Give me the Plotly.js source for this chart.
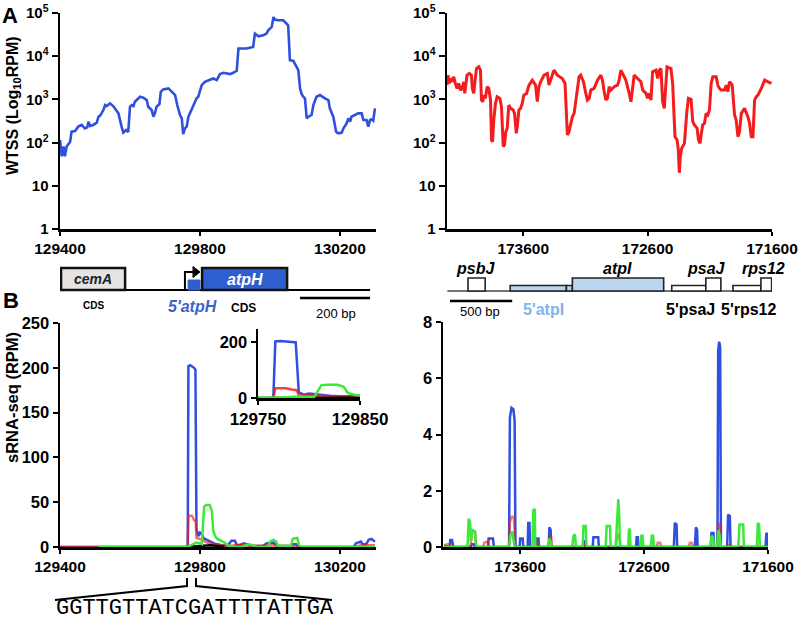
<!DOCTYPE html>
<html><head><meta charset="utf-8">
<script src="https://cdn.plot.ly/plotly-3.0.1.min.js"></script>
<style>html,body{margin:0;padding:0;background:#fff}#c{width:800px;height:622px}</style>
</head><body><div id="c"></div>
<script>
// ---- Panel A: WTSS (RPM), atpH region ----
const tssLeftPos = [129400,129405,129410,129414,129419,129429,129433,129443,129452,129462,129471,129478,129481,129486,129495,129505,129510,129514,129524,129529,129533,129543,129552,129557,129567,129576,129581,129589,129595,129600,129605,129610,129614,129619,129629,129638,129648,129652,129662,129667,129671,129676,129684,129688,129695,129710,129719,129729,129735,129743,129748,129750,129752,129757,129762,129767,129771,129781,129790,129795,129800,129805,129814,129824,129838,129848,129852,129857,129867,129876,129886,129895,129905,129910,129914,129933,129952,129957,129967,129981,129990,129995,130005,130010,130014,130024,130038,130048,130052,130057,130067,130071,130076,130081,130086,130090,130095,130100,130105,130110,130119,130124,130133,130143,130157,130167,130171,130181,130189,130195,130205,130210,130219,130224,130229,130233,130243,130252,130262,130267,130276,130281,130286,130290,130295,130300];
const tssLeftRPM = [115,48,81,48,81,105,179,186,234,256,
214,226,305,243,256,289,398,412,567,740,
702,809,702,620,475,234,170,196,176,677,
740,702,884,966,1152,1092,966,677,567,398,
475,677,781,1503,1701,1794,1503,1259,740,435,
364,179,158,214,234,398,475,740,1055,1152,
1642,2141,2556,2793,3053,2793,3337,3845,4124,3981,
3845,4124,4589,15030,15030,15030,16420,33370,28950,30520,
33370,39810,47510,80850,70180,67740,67740,56740,51910,8080,
7800,6770,5670,4750,1794,1375,1152,1055,364,398,
435,740,1152,1259,1055,966,620,398,179,164,
170,214,279,364,305,398,435,475,475,334,
334,234,334,345,322,620];

// ---- Panel A: WTSS (RPM), atpI region ----
const tssRightPos = [174213,174205,174194,174186,174173,174159,174146,174132,174119,174105,174092,174078,174070,174060,174052,174033,174017,174009,173998,173990,173976,173958,173944,173936,173925,173917,173904,173890,173877,173863,173855,173847,173837,173823,173810,173788,173775,173761,173751,173740,173729,173716,173702,173681,173670,173656,173648,173635,173622,173608,173595,173573,173554,173527,173514,173501,173487,173474,173460,173433,173406,173393,173380,173353,173326,173286,173264,173253,173245,173232,173218,173205,173191,173165,173151,173138,173116,173097,173084,173070,173057,173030,173003,172976,172963,172949,172936,172923,172909,172896,172869,172842,172829,172815,172802,172788,172775,172748,172734,172721,172708,172681,172654,172640,172613,172600,172587,172573,172560,172533,172519,172506,172493,172479,172466,172452,172444,172412,172398,172390,172380,172363,172353,172345,172337,172326,172304,172286,172272,172251,172237,172224,172202,172191,172178,172170,172157,172143,172130,172116,172103,172089,172076,172049,172036,172022,172009,171982,171968,171955,171941,171920,171901,171888,171874,171861,171847,171821,171794,171780,171767,171753,171740,171726,171713,171686,171659,171632,171605];
const tssRightRPM = [2141,3646,2340,3053,2556,3337,2340,1794,2340,1642,1794,2556,1375,2340,3646,3981,3646,1794,1375,2340,5190,5670,4750,966,884,1259,1055,1960,1794,966,115,105,334,809,1152,1055,677,81,88,179,214,740,620,567,475,164,234,567,620,809,1259,1375,2141,2793,2340,2141,884,1960,2556,3646,3981,2141,2793,4750,3646,3053,2340,567,150,179,256,398,475,1794,3337,3646,2556,1375,966,1055,1642,1794,2793,3646,2793,1503,966,1055,1960,1642,1960,2141,2793,4750,3981,3337,2793,1375,884,1794,3646,3053,2556,1642,1375,1055,1375,966,4348,4750,3053,4750,5190,884,620,2556,5670,5190,2141,620,137,115,68,20,48,74,96,475,1055,1000,305,256,214,115,96,150,256,279,475,435,567,2340,3337,3337,2141,1794,1642,1642,2141,1503,2556,2141,435,334,137,179,475,620,398,279,137,137,966,1152,1259,1794,2793,2556,2340];

// ---- Panel B: sRNA-seq (RPM), atpH region ----
const sLeftBluePos = [129400,129765,129767,129772,129783,129787,129790,129795,129800,129805,129810,129820,129830,129840,129850,129860,129880,129890,129900,129905,129915,129925,129935,129945,129980,129990,130010,130020,130060,130065,130075,130080,130240,130245,130260,130265,130275,130282,130290,130300];
const sLeftBlue    = [0,0,202,203,200,198,20,12,16,14,10,8,6,4,3,2,2,7,7,2,2,4,3,1,1,4,5,1,1,3,3,0,0,4,6,3,3,8,9,6];
const sLeftRedPos  = [129400,129765,129767,129777,129783,129788,129790,129800,129810,129820,129840,129860,129880,129900,129920,129940,129990,130010,130030,130060,130080,130240,130260,130300];
const sLeftRed     = [0,0,35,35,30,28,10,9,7,5,3,2,1,2,3,1,2,2,1,1,0,0,2,2];
const sLeftBlackPos = [129760,129800,129830,129850,129870];
const sLeftBlack    = [0,1,2,1,0];
const sLeftGreenPos = [129510,129760,129775,129790,129800,129805,129812,129818,129828,129834,129838,129845,129850,129860,129870,129880,129890,129920,129930,129940,129950,129960,129995,130000,130010,130018,130022,130060,130065,130078,130083,130090,130300];
const sLeftGreen    = [0,0,2,5,4,3,45,47,47,40,18,11,9,7,5,2,0,0,2,3,2,0,0,6,8,6,1,1,9,10,2,0,0];

// ---- Panel B: sRNA-seq (RPM), atpI region ----
const sRightBluePos = [174215,174170,174164,174150,174140,174000,173990,173975,173965,173860,173855,173820,173812,173690,173683,173670,173655,173645,173638,173605,173600,173580,173575,173540,173535,173525,173520,173470,173466,173452,173448,173370,173364,173354,173350,173095,173090,173080,173075,173015,173009,172970,172965,172665,172660,172650,172645,172360,172352,172338,172333,172190,172182,172172,172168,172062,172056,172040,172035,172008,172002,171994,171986,171980,171930,171922,171908,171902,171620,171613,171605,171600];
const sRightBlue    = [0.05,0,0.25,0.25,0,0,0.1,0.1,0,0,0.3,0.3,0,0,4.6,4.95,4.9,4.5,0,0,0.3,0.3,0,0,0.85,0.85,0,0,0.3,0.3,0,0,0.7,0.6,0,0,0.2,0.2,0,0,0.35,0.35,0,0,0.35,0.35,0,0,0.85,0.8,0,0,0.7,0.6,0,0,0.5,0.5,0,0,7.0,7.3,7.1,0,0,1.15,1.1,0,0,0.5,0.45,0];
const sRightRedPos  = [174215,174190,174170,174150,174000,173990,173965,173955,173900,173890,173860,173850,173690,173683,173665,173650,173640,173470,173460,173450,173370,173362,173350,173345,173100,173090,173075,172830,172815,172800,172790,172500,172490,172470,172460,172240,172230,172215,172205,172010,172002,171990,171982,171920,171910,171900,171600];
const sRightRed     = [0.05,0.1,0.1,0,0,0.6,0.55,0,0,0.15,0.2,0,0,0.9,1.1,1.0,0,0,0.2,0,0,0.4,0.35,0,0,0.1,0,0,0.45,0.4,0,0,0.15,0.15,0,0,0.15,0.15,0,0,0.75,0.85,0,0,0.1,0,0];
const sRightGreenPos = [174215,174025,174016,174005,173998,173985,173965,173955,173690,173680,173665,173655,173645,173500,173495,173482,173478,173370,173364,173355,173350,173180,173170,173158,173150,173095,173090,173071,173065,172910,172902,172875,172870,172830,172818,172808,172800,172795,172728,172722,172715,172710,172628,172622,172612,172606,172545,172538,172528,172520,172065,172056,172045,172035,172010,172000,171990,171980,171840,171830,171800,171795,171690,171682,171672,171665,171600];
const sRightGreen    = [0,0,1.0,0.9,0.2,0.6,0.55,0,0,0.4,0.55,0.3,0,0,1.3,1.35,0,0,0.3,0.2,0,0,0.4,0.45,0,0,0.75,0.75,0,0,0.75,0.75,0,0,0.8,1.7,1.0,0,0,0.65,0.6,0,0,0.4,0.4,0,0,0.4,0.4,0,0,0.4,0.35,0,0,0.6,0.4,0,0,0.8,0.8,0,0,0.85,0.8,0,0];

// ---- tick labels ----
const logTickVals = [1,10,100,1000,10000,100000];
const logTickText = ['1','10','10<sup>2</sup>','10<sup>3</sup>','10<sup>4</sup>','10<sup>5</sup>'];
const leftTicks = [129400,129800,130200];
const rightTicks = [173600,172600,171600];

// ---- gene models (genomic coordinates) ----
const leftGeneNames  = ['cemA','5\'atpH','atpH'];
const leftGeneStart  = [129403,129766,129806];
const leftGeneEnd    = [129586,129800,130049];
const rightGeneNames = ['psbJ','5\'atpI','5\'atpI-b','atpI','5\'psaJ','psaJ','5\'rps12','rps12'];
const rightGeneStart = [174044,173705,173253,173205,172406,172132,171914,171689];
const rightGeneEnd   = [173906,173253,173205,172471,172132,172011,171689,171603];

const BLUE='#2f50df', RED='#f41c1c', GREEN='#3ce83a';
const FONT='Arial, "Liberation Sans", sans-serif';
const W=800,H=622;
const px=v=>v/W, py=v=>1-v/H;

const traces = [
  {x:tssLeftPos,y:tssLeftRPM,xaxis:'x',yaxis:'y',mode:'lines',line:{color:BLUE,width:2.6}},
  {x:tssRightPos,y:tssRightRPM,xaxis:'x2',yaxis:'y2',mode:'lines',line:{color:RED,width:3}},
];
function srna(xa,ya,sets){
  sets.forEach(s=>traces.push({x:s[0],y:s[1],xaxis:xa,yaxis:ya,mode:'lines',opacity:s[3]||1,line:{color:s[2],width:2.5}}));
}
srna('x3','y3',[[sLeftBluePos,sLeftBlue,BLUE],[sLeftRedPos,sLeftRed,RED,0.65],[sLeftBlackPos,sLeftBlack,'#000'],[sLeftGreenPos,sLeftGreen,GREEN]]);
srna('x5','y5',[[sLeftBluePos,sLeftBlue,BLUE],[sLeftRedPos,sLeftRed,RED,0.85],[sLeftBlackPos,sLeftBlack,'#000'],[sLeftGreenPos,sLeftGreen,GREEN]]);
srna('x4','y4',[[sRightBluePos,sRightBlue,BLUE],[sRightRedPos,sRightRed,RED,0.6],[sRightGreenPos,sRightGreen,GREEN]]);

const axBase = {showline:true,linecolor:'#000',linewidth:2.5,ticks:'outside',tickwidth:2,ticklen:4,
  showgrid:false,zeroline:false,fixedrange:true,tickcolor:'#000'};
const xTickFont = {family:FONT,size:15.5,color:'#000',weight:'bold'};
const yTickFont = {family:FONT,size:16.5,color:'#000',weight:'bold'};
const logTickFont = {family:FONT,size:15,color:'#000',weight:'bold'};

const layout = {
  width:W,height:H,margin:{l:0,r:0,t:0,b:0},paper_bgcolor:'#fff',plot_bgcolor:'rgba(0,0,0,0)',
  showlegend:false,font:{family:FONT,color:'#000'},
  xaxis:Object.assign({},axBase,{domain:[px(60),px(376)],range:[129400,130303],anchor:'y',tickmode:'array',tickvals:leftTicks,ticktext:leftTicks.map(String),tickfont:xTickFont}),
  yaxis:Object.assign({},axBase,{domain:[py(229),py(13)],type:'log',range:[0,5],anchor:'x',tickmode:'array',tickvals:logTickVals,ticktext:logTickText,tickfont:logTickFont,ticklen:6}),
  xaxis2:Object.assign({},axBase,{domain:[px(447),px(772)],range:[174213,171600],anchor:'y2',tickmode:'array',tickvals:rightTicks,ticktext:rightTicks.map(String),tickfont:xTickFont}),
  yaxis2:Object.assign({},axBase,{domain:[py(229),py(13)],type:'log',range:[0,5],anchor:'x2',tickmode:'array',tickvals:logTickVals,ticktext:logTickText,tickfont:logTickFont,ticklen:6}),
  xaxis3:Object.assign({},axBase,{domain:[px(60),px(376)],range:[129400,130303],anchor:'y3',tickmode:'array',tickvals:leftTicks,ticktext:leftTicks.map(String),tickfont:xTickFont}),
  yaxis3:Object.assign({},axBase,{domain:[py(547),py(323)],range:[0,250],anchor:'x3',tickmode:'array',tickvals:[0,50,100,150,200,250],tickfont:yTickFont,ticklen:5}),
  xaxis4:Object.assign({},axBase,{domain:[px(443),px(768)],range:[174223,171600],anchor:'y4',tickmode:'array',tickvals:rightTicks,ticktext:rightTicks.map(String),tickfont:xTickFont}),
  yaxis4:Object.assign({},axBase,{domain:[py(547),py(322)],range:[0,8],anchor:'x4',tickmode:'array',tickvals:[0,2,4,6,8],tickfont:yTickFont,ticklen:5}),
  xaxis5:Object.assign({},axBase,{domain:[px(258),px(360)],range:[129750,129850],anchor:'y5',tickmode:'array',tickvals:[129750,129850],ticktext:['129750','129850'],tickfont:{family:FONT,size:17,color:'#000',weight:'bold'}}),
  yaxis5:Object.assign({},axBase,{domain:[py(398),py(329)],range:[0,246],anchor:'x5',tickmode:'array',tickvals:[0,200],tickfont:yTickFont,ticklen:5}),
  shapes:[],annotations:[]
};

// gene models: left (xref x)
const S = layout.shapes;
S.push({type:'line',xref:'x',yref:'paper',x0:129403,x1:130286,y0:py(290),y1:py(290),line:{color:'#000',width:2}});
S.push({type:'rect',xref:'x',yref:'paper',x0:leftGeneStart[0],x1:leftGeneEnd[0],y0:py(290),y1:py(268),fillcolor:'#e4e4e4',line:{color:'#111',width:2.5}});
S.push({type:'rect',xref:'x',yref:'paper',x0:leftGeneStart[1],x1:leftGeneEnd[1],y0:py(290),y1:py(280),fillcolor:'#2f5fcf',line:{color:'#2f5fcf',width:1}});
S.push({type:'rect',xref:'x',yref:'paper',x0:leftGeneStart[2],x1:leftGeneEnd[2],y0:py(290),y1:py(268),fillcolor:'#2f5fcf',line:{color:'#111',width:2.5}});
// TSS arrow
S.push({type:'path',xref:'x',yref:'paper',path:`M 129757,${py(290)} L 129757,${py(272)} L 129783,${py(272)}`,line:{color:'#000',width:2}});
S.push({type:'path',xref:'x',yref:'paper',path:`M 129780,${py(266.5)} L 129800,${py(272)} L 129780,${py(277.5)} Z`,fillcolor:'#000',line:{color:'#000',width:1}});
// 200 bp scale bar
S.push({type:'line',xref:'x',yref:'paper',x0:130086,x1:130286,y0:py(298),y1:py(298),line:{color:'#000',width:2.5}});

// gene models: right (xref x2)
S.push({type:'line',xref:'x2',yref:'paper',x0:174210,x1:171603,y0:py(291),y1:py(291),line:{color:'#444',width:1.5}});
const tall=[true,false,false,true,false,true,false,true];
const fills=['#ffffff','#bcd6f1','#bcd6f1','#bcd6f1','#ffffff','#ffffff','#ffffff','#ffffff'];
rightGeneNames.forEach((n,i)=>{
  S.push({type:'rect',xref:'x2',yref:'paper',x0:rightGeneStart[i],x1:rightGeneEnd[i],y0:py(291),y1:py(tall[i]?278:285.5),fillcolor:fills[i],line:{color:'#222',width:1.6}});
});
S.push({type:'line',xref:'x2',yref:'paper',x0:174189,x1:173689,y0:py(301),y1:py(301),line:{color:'#000',width:2.5}});

// bracket to sequence
S.push({type:'path',xref:'paper',yref:'paper',path:`M ${px(187)},${py(578)} L ${px(187)},${py(586)} L ${px(55)},${py(600)}`,line:{color:'#000',width:2}});
S.push({type:'path',xref:'paper',yref:'paper',path:`M ${px(196)},${py(578)} L ${px(196)},${py(586)} L ${px(332)},${py(600)}`,line:{color:'#000',width:2}});

const A = layout.annotations;
function T(text,x,y,size,opt){
  A.push(Object.assign({text:text,xref:'paper',yref:'paper',x:px(x),y:py(y),xanchor:'center',yanchor:'middle',showarrow:false,
    font:{family:FONT,size:size,color:(opt&&opt.color)||'#000'}},opt&&opt.extra||{}));
}
T('<b>A</b>',10,16,22);
T('<b>B</b>',11,301,22);
T('<b>WTSS (Log<sub>10</sub>RPM)</b>',14,106,16,{extra:{textangle:-90}});
T('<b>sRNA-seq (RPM)</b>',12,398,16.5,{extra:{textangle:-90}});
T('<b><i>cemA</i></b>',93,279,14,{color:'#222'});
T('<b><i>atpH</i></b>',245,279,16,{color:'#ffffff'});
T('<b>CDS</b>',93,305,10);
T("<b><i>5'atpH</i></b>",192,306,16,{color:'#3a64c8'});
T('<b>CDS</b>',243,308,12);
T('200 bp',336,313,13);
T('<b><i>psbJ</i></b>',475,268,16);
T('<b><i>atpI</i></b>',617,268,16);
T('<b><i>psaJ</i></b>',706,268,16);
T('<b><i>rps12</i></b>',763,268,16);
T("<b>5'atpI</b>",543,309,16,{color:'#7fb5ec'});
T("<b>5'psaJ</b>",690,309,16);
T("<b>5'rps12</b>",749,309,16);
T('500 bp',480,311,13);
A.push({text:'GGTTGTTATCGATTTTATTGA',xref:'paper',yref:'paper',x:px(195),y:py(608),xanchor:'center',yanchor:'middle',showarrow:false,
  font:{family:'"Liberation Mono", "Courier New", monospace',size:22,color:'#000'}});

Plotly.newPlot('c',traces,layout,{staticPlot:true,displayModeBar:false});
</script>
</body></html>
